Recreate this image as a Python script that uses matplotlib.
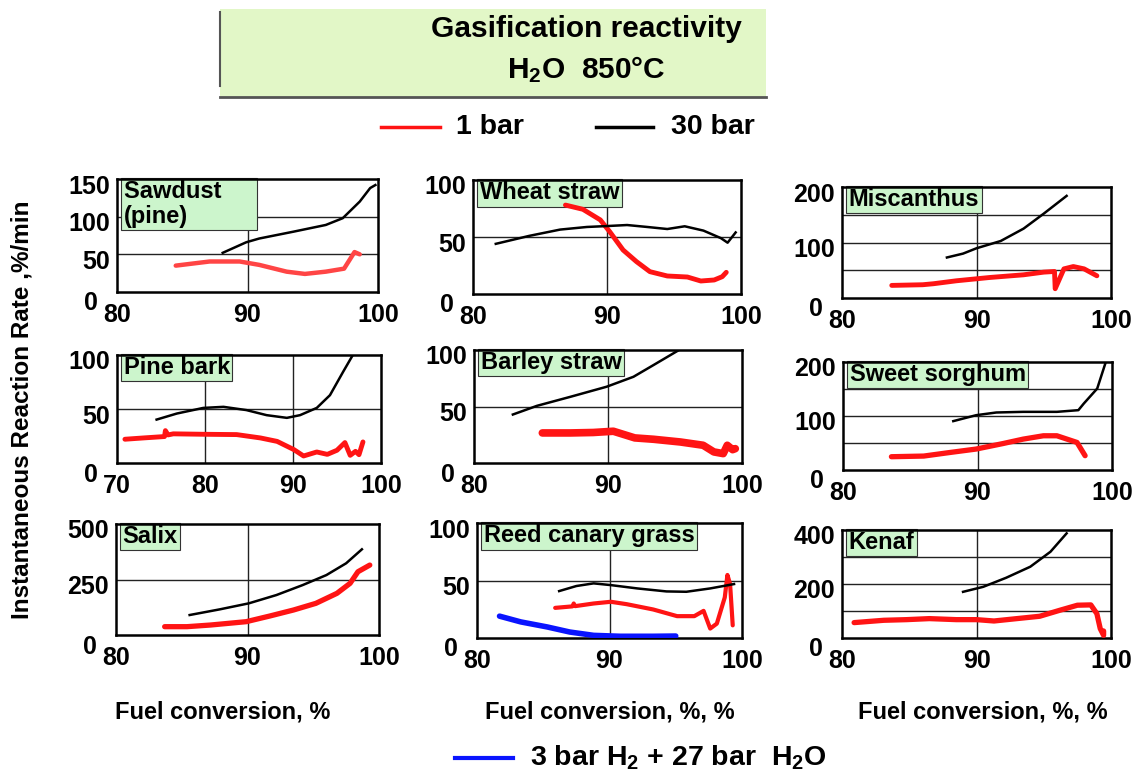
import matplotlib
matplotlib.use("Agg")
import matplotlib.pyplot as plt
from matplotlib.patches import Rectangle
from matplotlib.lines import Line2D
from matplotlib.transforms import ScaledTranslation

plt.rcParams['font.family'] = ['Liberation Sans', 'DejaVu Sans']
plt.rcParams['font.weight'] = 'bold'
plt.rcParams['mathtext.fontset'] = 'custom'
plt.rcParams['mathtext.rm'] = 'Liberation Sans:bold'
plt.rcParams['mathtext.bf'] = 'Liberation Sans:bold'
plt.rcParams['mathtext.default'] = 'bf'

# ---- data (fuel conversion %, rate %/min) ----
sawdust_x_30 = [88.1, 89.9, 90.9, 93.5, 96.0, 97.3, 98.6, 99.4, 99.8]
sawdust_y_30 = [52, 66, 71, 80, 89, 98, 120, 138, 142]
sawdust_x_1 = [84.5, 87.1, 89.4, 90.9, 93.0, 94.4, 96.0, 97.4, 98.2, 98.6]
sawdust_y_1 = [35, 40.5, 40.5, 36, 27, 24, 27, 31, 53, 50]

wheat_x_30 = [81.7, 84.2, 86.5, 88.5, 90.0, 91.5, 93.0, 94.5, 95.8, 97.2, 98.5, 99.0, 99.6]
wheat_y_30 = [44, 51, 56.5, 58.8, 59.6, 60.5, 58.8, 57, 59.4, 55.6, 49, 45, 54]
wheat_x_1 = [86.9, 88.2, 89.5, 90.2, 91.2, 92.2, 93.2, 94.5, 96.0, 97.0, 98.0, 98.6, 98.9]
wheat_y_1 = [78, 74.3, 65, 54.7, 38.6, 28.4, 19.6, 15.8, 14.9, 11.4, 12.3, 15.2, 19]

misc_x_30 = [87.8, 89.0, 90.0, 91.8, 93.5, 95.0, 96.7]
misc_y_30 = [73, 80, 89.6, 102.7, 125, 152, 184]
misc_x_1 = [83.7, 86.0, 86.8, 88.5, 91.0, 93.5, 95.0, 95.8, 95.85, 96.5, 97.2, 98.0, 98.95]
misc_y_1 = [22.7, 23.9, 25.7, 31, 37, 41.8, 46.6, 47.8, 16.7, 52.5, 56.7, 52.5, 40]

pine_x_30 = [74.5, 76.8, 79.8, 82.1, 84.7, 87.0, 89.3, 90.8, 92.7, 94.2, 95.7, 96.8]
pine_y_30 = [40.2, 45.8, 51, 52, 49, 44.3, 41.8, 44.3, 51, 62.8, 84.5, 100]
pine_x_1 = [70.9, 73.0, 75.4, 75.5, 75.8, 76.4, 79.8, 83.6, 86.3, 88.2, 90.1, 91.2,
            92.7, 93.9, 95.0, 95.9, 96.5, 97.1, 97.5, 97.95]
pine_y_1 = [22, 23.2, 24.5, 30, 26, 27, 26.6, 26.3, 23.2, 20, 12.4, 6.5,
            10.2, 8, 11.8, 18.9, 7.1, 10.8, 7.7, 19.5]

barley_x_30 = [82.9, 84.7, 87.2, 89.9, 91.9, 93.4, 95.3]
barley_y_30 = [42.9, 50.6, 58.6, 67.5, 76.3, 86.7, 100]
barley_x_1 = [85.1, 87.2, 88.9, 90.4, 92.0, 93.4, 95.4, 97.1, 97.9, 98.6, 98.9, 99.3, 99.5]
barley_y_1 = [26.6, 26.6, 27, 28.1, 22.2, 21, 18.6, 15.7, 9.8, 8.3, 15.7, 11.8, 12.7]

sorghum_x_30 = [88.2, 89.9, 91.4, 93.4, 95.9, 97.5, 97.9, 98.9, 99.5]
sorghum_y_30 = [90.5, 101.5, 106.5, 107.7, 107.7, 110.8, 123, 150.8, 197]
sorghum_x_1 = [83.6, 86.0, 88.0, 89.9, 91.9, 93.4, 94.9, 95.9, 97.4, 98.0]
sorghum_y_1 = [24.6, 25.8, 32.6, 38.8, 49, 57.2, 63.4, 63.4, 51, 26.5]

salix_x_30 = [85.6, 87.9, 90.1, 92.2, 94.2, 96.0, 97.5, 98.7]
salix_y_30 = [90, 115.6, 142.6, 180, 225, 270, 323, 386]
salix_x_1 = [83.7, 85.4, 87.2, 89.9, 91.7, 93.5, 95.2, 96.8, 97.8, 98.4, 99.3]
salix_y_1 = [37.5, 37.5, 45, 60, 85.6, 112.6, 142.6, 187.7, 232.7, 285, 315]

reed_x_30 = [86.2, 87.5, 88.8, 90.1, 92.1, 94.3, 95.8, 97.6, 99.4]
reed_y_30 = [40.8, 45.2, 47.5, 46, 43.1, 40.5, 40.2, 43.1, 46.9]
reed_x_1 = [85.9, 87.2, 87.3, 87.4, 88.8, 90.1, 91.3, 93.3, 95.1, 96.4, 97.1, 97.6,
            98.1, 98.7, 98.9, 99.1, 99.3]
reed_y_1 = [26.2, 27.5, 30, 27.7, 30, 31.5, 29.4, 24.8, 19, 19, 23.6, 8.2,
            12.5, 35.3, 54.8, 47, 11]
reed_x_h2 = [81.7, 83.3, 85.3, 87.0, 88.8, 90.8, 93.3, 95.0]
reed_y_h2 = [19, 14, 9.6, 5.2, 2.3, 1.5, 1.5, 1.7]

kenaf_x_30 = [89.0, 90.5, 92.2, 94.0, 95.5, 96.7]
kenaf_y_30 = [171, 189.5, 223, 264, 319.5, 387.6]
kenaf_x_1 = [80.9, 83.1, 84.8, 86.5, 88.5, 90.0, 91.3, 93.0, 94.7, 96.2, 97.5, 98.5,
             98.95, 99.2, 99.45, 99.45]
kenaf_y_1 = [57, 65.6, 68, 71.8, 68, 68, 63, 71.8, 80.5, 102.8, 121.4, 122.6,
             90, 34.7, 10, 26]

panel_names = ['Sawdust     \n(pine)', 'Wheat straw', 'Miscanthus',
               'Pine bark', 'Barley straw', 'Sweet sorghum',
               'Salix', 'Reed canary grass', 'Kenaf']
panel_yticks = [[0, 50, 100, 150], [0, 50, 100], [0, 100, 200],
                [0, 50, 100], [0, 50, 100], [0, 100, 200],
                [0, 250, 500], [0, 50, 100], [0, 200, 400]]
panel_xticks = [[80, 90, 100]] * 3 + [[70, 80, 90, 100]] + [[80, 90, 100]] * 5
panel_hgrid = [[50, 100], [50], [50, 100, 150],
               [50], [50], [50, 100, 150],
               [250], [50], [100, 200, 300]]

red_x = [sawdust_x_1, wheat_x_1, misc_x_1, pine_x_1, barley_x_1, sorghum_x_1,
         salix_x_1, reed_x_1, kenaf_x_1]
red_y = [sawdust_y_1, wheat_y_1, misc_y_1, pine_y_1, barley_y_1, sorghum_y_1,
         salix_y_1, reed_y_1, kenaf_y_1]
black_x = [sawdust_x_30, wheat_x_30, misc_x_30, pine_x_30, barley_x_30, sorghum_x_30,
           salix_x_30, reed_x_30, kenaf_x_30]
black_y = [sawdust_y_30, wheat_y_30, misc_y_30, pine_y_30, barley_y_30, sorghum_y_30,
           salix_y_30, reed_y_30, kenaf_y_30]

# ---- layout (pixel boxes of each axes: x0, y0, x1, y1) ----
W, H = 1147, 776
boxes = [(117, 179, 378, 292), (473, 180, 741, 294), (842, 187, 1111, 298),
         (117, 355, 381, 463), (474, 350, 742, 463), (843, 362, 1112, 470),
         (116, 524, 379, 635), (477, 523, 742, 638), (842, 530, 1111, 638)]
red_lw = [3.2, 3.5, 3.5, 3.5, 5.5, 3.8, 3.8, 3.0, 3.8]

fig = plt.figure(figsize=(W / 100, H / 100), dpi=100)

def fx(px):
    return px / W

def fy(py):
    return 1 - py / H

for i in range(9):
    x0, y0, x1, y1 = boxes[i]
    ax = fig.add_axes([fx(x0), fy(y1), fx(x1 - x0), (y1 - y0) / H])
    xt = panel_xticks[i]
    yt = panel_yticks[i]
    ax.set_xlim(xt[0], xt[-1])
    ax.set_ylim(yt[0], yt[-1])
    ax.set_xticks(xt)
    ax.set_yticks(yt)
    for v in panel_hgrid[i]:
        ax.axhline(v, color='#222222', lw=1.0, zorder=1)
    for v in xt[1:-1]:
        ax.axvline(v, color='#222222', lw=1.0, zorder=1)
    for s in ax.spines.values():
        s.set_linewidth(1.8)
    ax.tick_params(length=0, labelsize=18)
    ax.tick_params(axis='x', pad=8)
    ax.tick_params(axis='y', pad=5)
    for k, lab in enumerate(ax.get_yticklabels()):
        dx, dy = (-12, -9) if k == 0 else (0, -5)
        lab.set_transform(lab.get_transform() + ScaledTranslation(dx / 100, dy / 100, fig.dpi_scale_trans))

    col = '#ff4545' if i == 0 else '#ff1414'
    ax.plot(red_x[i], red_y[i], color=col, lw=red_lw[i], zorder=3, solid_capstyle='round')
    ax.plot(black_x[i], black_y[i], color='black', lw=1.8, zorder=4)
    if i == 7:
        ax.plot(reed_x_h2, reed_y_h2, color='#0a14ff', lw=4, zorder=3, solid_capstyle='round')

    # label box sits under the curves, as in the original slide
    ax.text(0.025, 0.99, panel_names[i], transform=ax.transAxes, ha='left', va='top',
            fontsize=17, fontweight='bold', zorder=2, linespacing=1.1,
            bbox=dict(boxstyle='square,pad=0.1', fc='#ccf5cc', ec='#333333', lw=0.8))

# title box
fig.patches.append(Rectangle((fx(220), fy(97)), fx(766 - 220), (97 - 9) / H,
                             transform=fig.transFigure, fc='#e2f7c7', ec='none', zorder=0))
fig.lines.append(Line2D([fx(220), fx(766)], [fy(97), fy(97)], transform=fig.transFigure,
                        color='#555555', lw=2))
fig.lines.append(Line2D([fx(220), fx(220)], [fy(12), fy(86)], transform=fig.transFigure,
                        color='#555555', lw=1.5))
fig.text(fx(586), fy(29), 'Gasification reactivity', ha='center', va='center', fontsize=21.5)
fig.text(fx(586), fy(70), r'H$_2$O  850°C', ha='center', va='center', fontsize=21.5)

# legend
fig.lines.append(Line2D([fx(381), fx(440)], [fy(127), fy(127)], transform=fig.transFigure,
                        color='#ff1414', lw=2.5))
fig.text(fx(456), fy(127), '1 bar', ha='left', va='center', fontsize=20.5)
fig.lines.append(Line2D([fx(596), fx(653)], [fy(127), fy(127)], transform=fig.transFigure,
                        color='black', lw=2.5))
fig.text(fx(671), fy(127), '30 bar', ha='left', va='center', fontsize=20.5)

fig.lines.append(Line2D([fx(455), fx(513)], [fy(758), fy(758)], transform=fig.transFigure,
                        color='#0a14ff', lw=3))
fig.text(fx(530), fy(758), r'3 bar H$_2$ + 27 bar  H$_2$O', ha='left', va='center', fontsize=20.5)

# axis labels
fig.text(fx(223), fy(712), 'Fuel conversion, %', ha='center', va='center', fontsize=17)
fig.text(fx(610), fy(712), 'Fuel conversion, %, %', ha='center', va='center', fontsize=17)
fig.text(fx(983), fy(712), 'Fuel conversion, %, %', ha='center', va='center', fontsize=17)
fig.text(fx(22), fy(410), 'Instantaneous Reaction Rate ,%/min', ha='center', va='center',
         rotation=90, fontsize=17.5)

fig.savefig('out.png', dpi=100)
